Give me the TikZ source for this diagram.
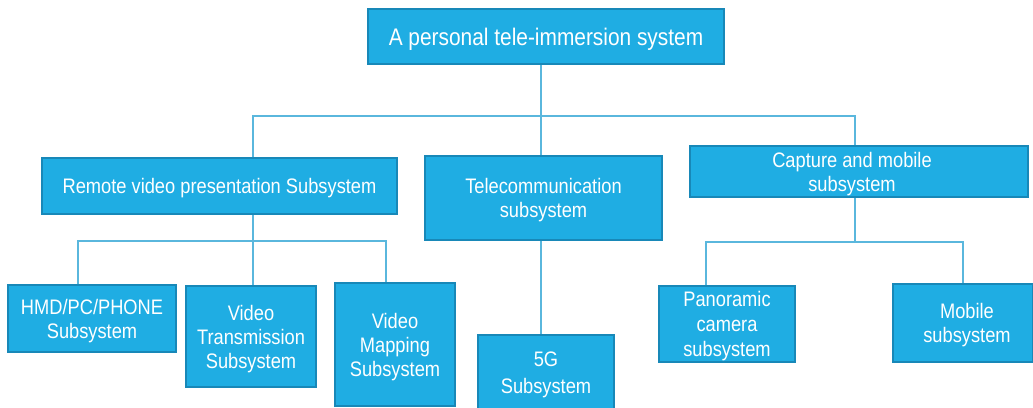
\documentclass[tikz,border=0pt]{standalone}
\usepackage{fontspec}
\setmainfont{Liberation Sans}[FakeStretch=0.87]
\definecolor{boxfill}{HTML}{1FADE3}
\definecolor{boxedge}{HTML}{1888B8}
\definecolor{linecol}{HTML}{5AB7DD}
\tikzset{
  box/.style={draw=boxedge, line width=1.5pt, fill=boxfill, inner sep=0pt},
  lbl/.style={text=white, align=center, inner sep=0pt, yshift=-2.5pt,
    font=\fontsize{21}{24}\selectfont},
  conn/.style={draw=linecol, line width=1.4pt}
}
\begin{document}
\begin{tikzpicture}[x=1pt,y=-1pt]
\useasboundingbox (0,0) rectangle (1033,407);
\clip (0,0) rectangle (1033,407);
% boxes
\node[box, minimum width=356pt, minimum height=55pt] (top) at (546,36.5) {};
\node[box, minimum width=355pt, minimum height=56pt] (remote) at (219.5,186) {};
\node[box, minimum width=237pt, minimum height=84pt] (telecom) at (543.5,198) {};
\node[box, minimum width=338pt, minimum height=51pt] (capture) at (859,171.5) {};
\node[box, minimum width=168pt, minimum height=67pt] (hmd) at (92,318.5) {};
\node[box, minimum width=130pt, minimum height=101pt] (vt) at (251,336.5) {};
\node[box, minimum width=120pt, minimum height=123pt] (vm) at (395,344.5) {};
\node[box, minimum width=136pt, minimum height=75pt] (g5) at (546,372.5) {};
\node[box, minimum width=136pt, minimum height=76pt] (pano) at (727,324) {};
\node[box, minimum width=140pt, minimum height=78pt] (mob) at (963,323) {};
% labels
\node[lbl, font=\fontsize{24}{28}\selectfont] (topT) at (top.center) {A personal tele-immersion system};
\node[lbl] (remoteT) at (remote.center) {Remote video presentation Subsystem};
\node[lbl] (telecomT) at (telecom.center) {Telecommunication\\subsystem};
\node[lbl, xshift=-7pt] (captureT) at (capture.center) {Capture and mobile\\subsystem};
\node[lbl] (hmdT) at (hmd.center) {HMD/PC/PHONE\\Subsystem};
\node[lbl] (vtT) at (vt.center) {Video\\Transmission\\Subsystem};
\node[lbl] (vmT) at (vm.center) {Video\\Mapping\\Subsystem};
\node[lbl, font=\fontsize{21}{27}\selectfont] (g5T) at (g5.center) {5G\\Subsystem};
\node[lbl, font=\fontsize{21}{25}\selectfont] (panoT) at (pano.center) {Panoramic\\camera\\subsystem};
\node[lbl, xshift=4pt] (mobT) at (mob.center) {Mobile\\subsystem};
% bus coordinates
\coordinate (busL) at (253,116);
\coordinate (busM) at (541,116);
\coordinate (busR) at (855,116);
\coordinate (rbL) at (78,241);
\coordinate (rbM) at (253,241);
\coordinate (rbR) at (386,241);
\coordinate (cbL) at (706,242);
\coordinate (cbM) at (855,242);
\coordinate (cbR) at (963,242);
% connectors
\draw[conn] (top.south -| busM) -- (busM);
\draw[conn] (remote.north -| busL) -- (busL) -- (busR) -- (capture.north -| busR);
\draw[conn] (busM) -- (telecom.north -| busM);
\draw[conn] (remote.south -| rbM) -- (vt.north -| rbM);
\draw[conn] (hmd.north -| rbL) -- (rbL) -- (rbR) -- (vm.north -| rbR);
\draw[conn] (telecom.south -| busM) -- (g5.north -| busM);
\draw[conn] (capture.south -| cbM) -- (cbM);
\draw[conn] (pano.north -| cbL) -- (cbL) -- (cbR) -- (mob.north -| cbR);
\end{tikzpicture}
\end{document}
